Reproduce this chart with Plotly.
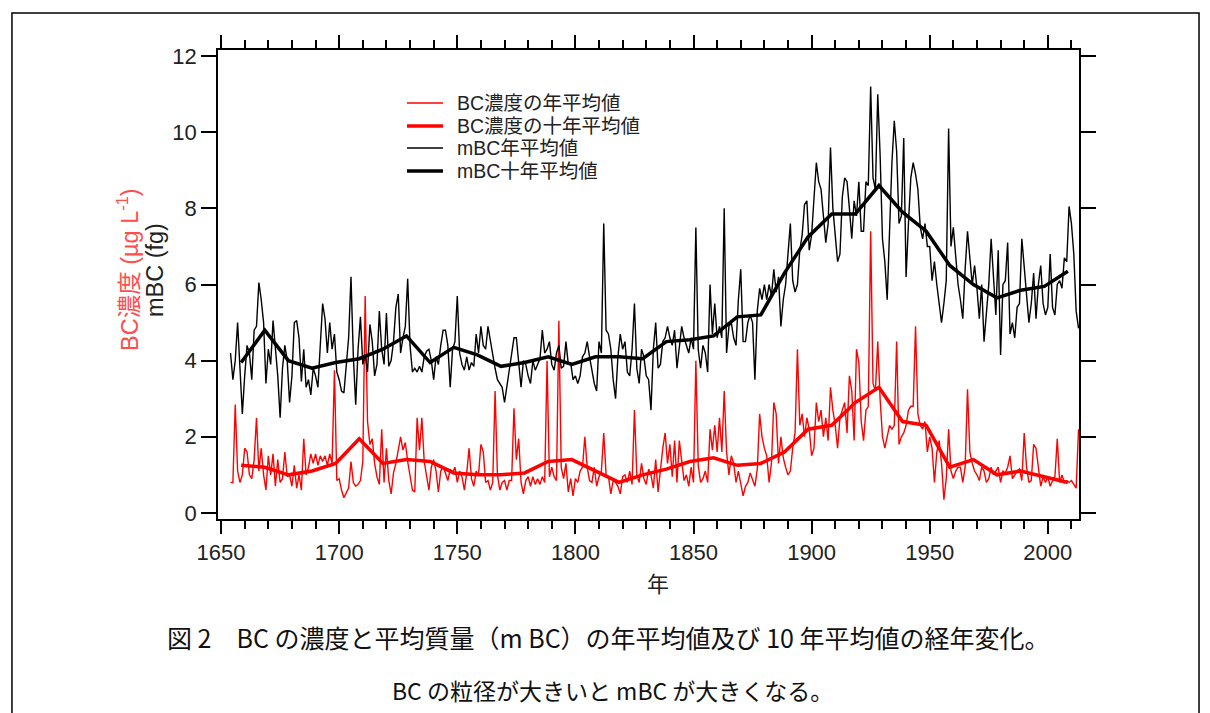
import plotly.graph_objects as go

# 年 (annual values run 1654-2013)
years = list(range(1654, 2014))

# BC濃度の年平均値 (µg/L)
bc_annual = [
    0.8, 0.8, 2.85, 1.1, 0.8, 1.0, 1.7, 1.6, 1.0, 0.9, 1.4, 2.5, 1.1, 1.7, 1.0, 0.6, 1.5, 1.0, 1.55, 0.7, 1.4, 0.8, 0.9, 1.6,  # 1654-1677
    0.95, 1.0, 0.7, 1.25, 0.65, 1.0, 0.6, 1.95, 1.0, 1.2, 1.55, 1.3, 1.55, 1.25, 1.5, 1.35, 1.5, 1.25, 1.55, 1.3,
    3.75, 0.85, 0.9, 0.6, 0.4, 0.55, 0.65, 1.35, 0.8, 0.7, 0.75, 0.85, 1.35,  # 1678-1710
    5.7, 2.4, 1.8, 1.95, 1.3, 0.95, 0.75, 2.2, 0.8, 1.7, 0.85, 0.5, 1.05, 1.3, 1.65, 2.0, 1.65, 1.85, 1.35, 1.0,
    0.6, 0.55, 2.5, 1.65, 2.5, 1.35, 1.0, 0.6, 1.2, 1.4, 1.1, 0.55, 1.1, 1.2,  # 1711-1744
    1.05, 0.85, 1.15, 1.05, 1.2, 0.8, 1.1, 0.95, 0.6, 1.05, 1.7, 0.9, 0.7, 1.1, 1.0, 1.8, 1.6, 0.8, 0.85, 0.6,
    0.8, 3.2, 1.0, 0.6, 0.8, 0.85, 0.6, 0.85, 0.85, 2.75, 1.4, 1.95, 0.8, 0.5,  # 1745-1778
    0.85, 0.95, 0.7, 0.95, 0.75, 0.9, 0.75, 0.95, 0.8, 4.0, 0.95, 1.2, 0.95, 0.85, 5.05, 1.2, 0.9, 1.3, 0.55, 0.9,
    0.45, 0.9, 0.8, 1.1, 1.2, 2.0, 1.2, 0.85, 0.8, 1.2, 0.7, 0.95, 1.1, 2.1,  # 1779-1812
    1.0, 0.95, 0.5, 0.85, 0.8, 0.7, 0.5, 0.95, 1.0, 0.8, 1.1, 0.75, 2.7, 1.0, 0.8, 1.3, 0.9, 0.75, 1.15, 1.0,
    0.65, 1.4, 0.55, 1.15, 1.7, 2.1, 1.3, 1.8, 0.95, 1.9, 0.8, 1.9, 1.3, 0.85,  # 1813-1846
    1.0, 0.7, 1.2, 0.8, 4.0, 1.25, 0.8, 0.9, 1.1, 0.8, 2.2, 1.65, 2.3, 1.6, 2.5, 1.6, 3.2, 1.6, 1.0, 1.5,
    1.3, 0.8, 1.1, 0.8, 0.45, 0.7, 0.8, 1.05, 0.85, 0.7, 1.15, 2.6, 2.0, 1.7,  # 1847-1880
    1.5, 0.8, 1.3, 2.9, 2.6, 1.3, 2.0, 1.45, 1.2, 1.0, 1.1, 1.7, 2.1, 4.3, 2.3, 2.6, 2.0, 2.5, 2.2, 1.5,
    1.7, 2.9, 2.4, 2.7, 2.0, 2.5, 1.9, 3.3, 2.7, 2.3, 1.7, 2.5, 2.7, 2.9,  # 1881-1914
    2.1, 3.6, 3.2, 1.9, 4.3, 3.95, 2.4, 1.9, 2.7, 2.8, 7.4, 3.4, 3.2, 4.5, 3.0, 2.0, 1.7, 2.0, 2.3, 2.2,
    2.3, 4.5, 1.8, 2.0, 2.1, 2.3, 2.7, 2.8, 2.8, 4.9, 2.6, 2.3, 2.2, 2.4,  # 1915-1948
    1.6, 2.0, 1.7, 0.8, 1.6, 1.9, 1.3, 0.35, 0.9, 2.2, 1.1, 0.9, 1.1, 1.2, 1.2, 0.8, 1.2, 3.25, 1.6, 1.3,
    1.1, 1.0, 0.85, 1.2, 1.1, 0.8, 0.9, 1.2, 1.0, 1.1, 1.2, 0.8, 1.1,  # 1949-1981
    1.05, 1.2, 1.5, 0.9, 1.0, 1.1, 1.15, 0.85, 2.1, 1.2, 0.8, 0.85, 1.8, 1.7, 1.2, 0.7, 0.95, 0.8, 0.95, 0.7,
    0.85, 0.95, 1.95, 0.8, 1.0, 0.8, 0.85, 0.8, 0.85, 0.75, 0.65, 2.2,  # 1982-2013
]

# mBC年平均値 (fg)
mbc_annual = [
    4.2, 3.5, 4.0, 5.0, 3.8, 2.6, 3.6, 4.4, 4.2, 3.5, 4.8, 4.9, 6.05, 5.6, 5.0, 3.4, 4.3, 3.9, 5.05, 4.4, 3.6, 2.5, 3.8, 4.4,  # 1654-1677
    4.0, 2.9, 3.6, 5.0, 5.05, 4.6, 3.45, 4.3, 3.3, 3.5, 3.1, 3.8, 3.6, 3.3, 4.5, 5.5, 5.1, 4.2, 5.0, 4.3,
    4.7, 3.7, 3.5, 3.2, 3.15, 3.9, 4.6, 6.2, 4.1, 2.84, 4.3, 5.15, 3.9,  # 1678-1710
    4.15, 3.7, 4.95, 4.5, 3.6, 3.9, 5.3, 4.3, 3.9, 5.25, 3.85, 4.0, 4.5, 5.4, 5.75, 4.2, 4.6, 4.9, 6.15, 4.4,
    3.7, 3.8, 3.7, 3.85, 3.7, 4.1, 4.25, 4.3, 4.0, 3.5, 4.1, 3.9, 4.4, 4.8,  # 1711-1744
    4.8, 4.4, 3.3, 4.3, 4.5, 5.7, 4.2, 3.9, 3.75, 4.1, 3.75, 3.95, 3.85, 4.7, 4.2, 4.9, 4.4, 4.3, 4.9, 4.5,
    4.2, 3.8, 3.5, 3.4, 3.3, 2.9, 3.3, 3.8, 4.2, 4.6, 4.6, 4.0, 3.3, 4.0,  # 1745-1778
    3.9, 3.6, 3.4, 4.0, 3.75, 3.9, 4.05, 4.8, 4.2, 4.3, 4.5, 3.9, 3.75, 4.2, 4.4, 3.8, 3.85, 4.5, 3.9, 3.95,
    3.5, 3.6, 3.4, 3.6, 4.1, 4.2, 4.5, 4.1, 3.7, 3.4, 3.2, 4.5, 4.2, 7.6,  # 1779-1812
    4.8, 4.7, 4.3, 3.5, 3.0, 4.1, 4.7, 4.3, 4.5, 3.7, 3.6, 4.3, 5.5, 3.8, 3.4, 4.3, 4.1, 3.6, 3.5, 2.7,
    4.3, 5.0, 3.8, 3.9, 4.5, 4.6, 4.9, 4.6, 4.4, 4.8, 3.8, 4.4, 4.9, 4.6,  # 1813-1846
    4.4, 4.2, 4.6, 4.3, 7.5, 4.3, 3.8, 4.4, 4.2, 3.7, 6.0, 4.7, 5.5, 4.6, 4.9, 4.6, 8.0, 4.2, 4.9, 5.0,
    4.6, 4.4, 5.6, 6.4, 4.5, 4.5, 5.0, 5.2, 5.0, 3.5, 5.3, 5.9, 5.6, 6.0,  # 1847-1880
    5.6, 6.0, 5.7, 6.4, 5.8, 6.2, 4.9, 5.6, 6.0, 6.9, 7.6, 6.1, 5.8, 6.0, 6.9, 7.3, 8.1, 8.2, 6.9, 7.3,
    8.3, 9.2, 8.7, 8.5, 7.8, 7.1, 7.6, 9.6, 8.0, 7.2, 6.6, 6.8, 8.3, 8.8,  # 1881-1914
    8.7, 8.0, 7.2, 8.2, 7.8, 8.7, 7.4, 7.4, 8.7, 8.6, 11.2, 8.8, 8.5, 11.0, 9.4, 7.2, 6.6, 5.6, 7.3, 9.2,
    10.3, 9.5, 7.6, 7.8, 9.85, 6.2, 7.6, 8.8, 9.2, 8.9, 8.5, 7.5, 7.2, 7.6,  # 1915-1948
    7.0, 7.0, 6.1, 6.6, 6.0, 5.5, 5.0, 5.5, 6.1, 10.1, 7.0, 7.5, 6.8, 6.0, 5.6, 5.1, 6.4, 7.4, 6.7, 6.0,
    6.5, 5.9, 5.1, 6.0, 4.5, 5.3, 6.0, 7.2, 6.3, 5.2, 6.9, 4.15, 6.0,  # 1949-1981
    6.1, 7.1, 4.7, 5.0, 4.6, 5.4, 5.5, 7.2, 6.5, 5.6, 5.0, 5.5, 6.3, 5.1, 6.0, 6.5, 5.5, 5.2, 5.4, 6.8,
    5.4, 5.2, 6.0, 6.1, 5.9, 6.7, 6.6, 8.05, 7.6, 6.8, 5.3, 4.85,  # 1982-2013
]

# 十年平均値 (plotted at the middle of each decade block)
decade_mid = [1658.5, 1668.5, 1678.5, 1688.5, 1698.5, 1708.5, 1718.5, 1728.5, 1738.5, 1748.5, 1758.5, 1768.5,
              1778.5, 1788.5, 1798.5, 1808.5, 1818.5, 1828.5, 1838.5, 1848.5, 1858.5, 1868.5, 1878.5, 1888.5,
              1898.5, 1908.5, 1918.5, 1928.5, 1938.5, 1948.5, 1958.5, 1968.5, 1978.5, 1988.5, 1998.5, 2008.5]
bc_decadal = [1.25, 1.2, 1.0, 1.1, 1.3, 1.95, 1.3, 1.4, 1.35, 1.05, 1.0, 1.0,
              1.05, 1.35, 1.4, 1.1, 0.8, 1.0, 1.15, 1.35, 1.45, 1.25, 1.3, 1.6,
              2.2, 2.3, 2.9, 3.3, 2.4, 2.3, 1.2, 1.4, 1.0, 1.1, 0.95, 0.8]
mbc_decadal = [3.95, 4.8, 4.0, 3.8, 3.95, 4.05, 4.3, 4.65, 3.95, 4.35, 4.15, 3.85,
               3.95, 4.1, 3.9, 4.1, 4.1, 4.05, 4.5, 4.55, 4.65, 5.15, 5.2, 6.3,
               7.25, 7.85, 7.85, 8.6, 7.9, 7.4, 6.5, 6.0, 5.65, 5.85, 5.95, 6.35]

x_ticks = [1650, 1700, 1750, 1800, 1850, 1900, 1950, 2000]
y_ticks = [0, 2, 4, 6, 8, 10, 12]

RED = '#ff0000'
FONT = 'Liberation Sans, Arial, Noto Sans CJK JP'
JP = 'Noto Sans CJK JP'

series = [
    ('BC濃度の年平均値', years, bc_annual, RED, 1.4),
    ('BC濃度の十年平均値', decade_mid, bc_decadal, RED, 3.5),
    ('mBC年平均値', years, mbc_annual, 'black', 1.4),
    ('mBC十年平均値', decade_mid, mbc_decadal, 'black', 3.5),
]

fig = go.Figure()
for name, xs, ys, color, width in series:
    fig.add_trace(go.Scatter(x=xs, y=ys, mode='lines', name=name,
                             line=dict(color=color, width=width), showlegend=False))

axis_common = dict(showline=True, linecolor='black', linewidth=1.8, mirror='ticks',
                   ticks='outside', tickcolor='black', tickwidth=2,
                   showgrid=False, zeroline=False,
                   tickfont=dict(family=FONT, size=22, color='#222'))

fig.update_xaxes(range=[1648.7, 2013.2], tickvals=x_ticks, ticklen=13,
                 minor=dict(dtick=10, tick0=1650, ticks='outside', ticklen=8, tickwidth=1.5,
                            tickcolor='black', showgrid=False),
                 **axis_common)
fig.update_yaxes(range=[-0.16, 12.16], tickvals=y_ticks, ticklen=15, **axis_common)

# 凡例 (drawn by hand so the rows sit as tight as in the original)
legend_rows = [0.887, 0.838, 0.791, 0.742]
for (name, _, _, color, width), ly in zip(series, legend_rows):
    fig.add_shape(type='line', xref='paper', yref='paper', x0=0.2195, x1=0.2613, y0=ly, y1=ly,
                  line=dict(color=color, width=width))
    fig.add_annotation(text=name, x=0.2753, y=ly, xref='paper', yref='paper', showarrow=False,
                       xanchor='left', yanchor='middle',
                       font=dict(family=FONT, size=19.5, color='#222'))

# 軸ラベル
fig.add_annotation(text='年', x=0.511, y=-0.134, xref='paper', yref='paper', showarrow=False,
                   xanchor='center', yanchor='middle',
                   font=dict(family=JP, size=22, color='#222'))
fig.add_annotation(text='BC濃度 (µg L<sup>-1</sup>)', x=-0.1045, y=0.531, xref='paper', yref='paper',
                   textangle=-90, showarrow=False, xanchor='center', yanchor='middle',
                   font=dict(family=FONT, size=23.5, color='#ff4d4d'))
fig.add_annotation(text='mBC (fg)', x=-0.073, y=0.531, xref='paper', yref='paper',
                   textangle=-90, showarrow=False, xanchor='center', yanchor='middle',
                   font=dict(family=FONT, size=23.5, color='#222'))

# キャプション
fig.add_annotation(text='図 2　BC の濃度と平均質量（m BC）の年平均値及び 10 年平均値の経年変化。',
                   x=0.453, y=-0.2516, xref='paper', yref='paper', showarrow=False,
                   xanchor='center', yanchor='middle',
                   font=dict(family=JP, size=25, color='#111'))
fig.add_annotation(text='BC の粒径が大きいと mBC が大きくなる。',
                   x=0.458, y=-0.3646, xref='paper', yref='paper', showarrow=False,
                   xanchor='center', yanchor='middle',
                   font=dict(family=JP, size=23, color='#111'))

# 外枠
fig.add_shape(type='rect', xref='paper', yref='paper', x0=-0.2393, x1=1.1394, y0=-0.7, y1=1.0789,
              line=dict(color='black', width=1.5))

# the page adds an 8 px body margin, so the margins are trimmed by that much
fig.update_layout(
    width=1210, height=713,
    margin=dict(l=210, r=139, t=42, b=202),
    plot_bgcolor='white', paper_bgcolor='white',
)

fig.write_html("out.html")
